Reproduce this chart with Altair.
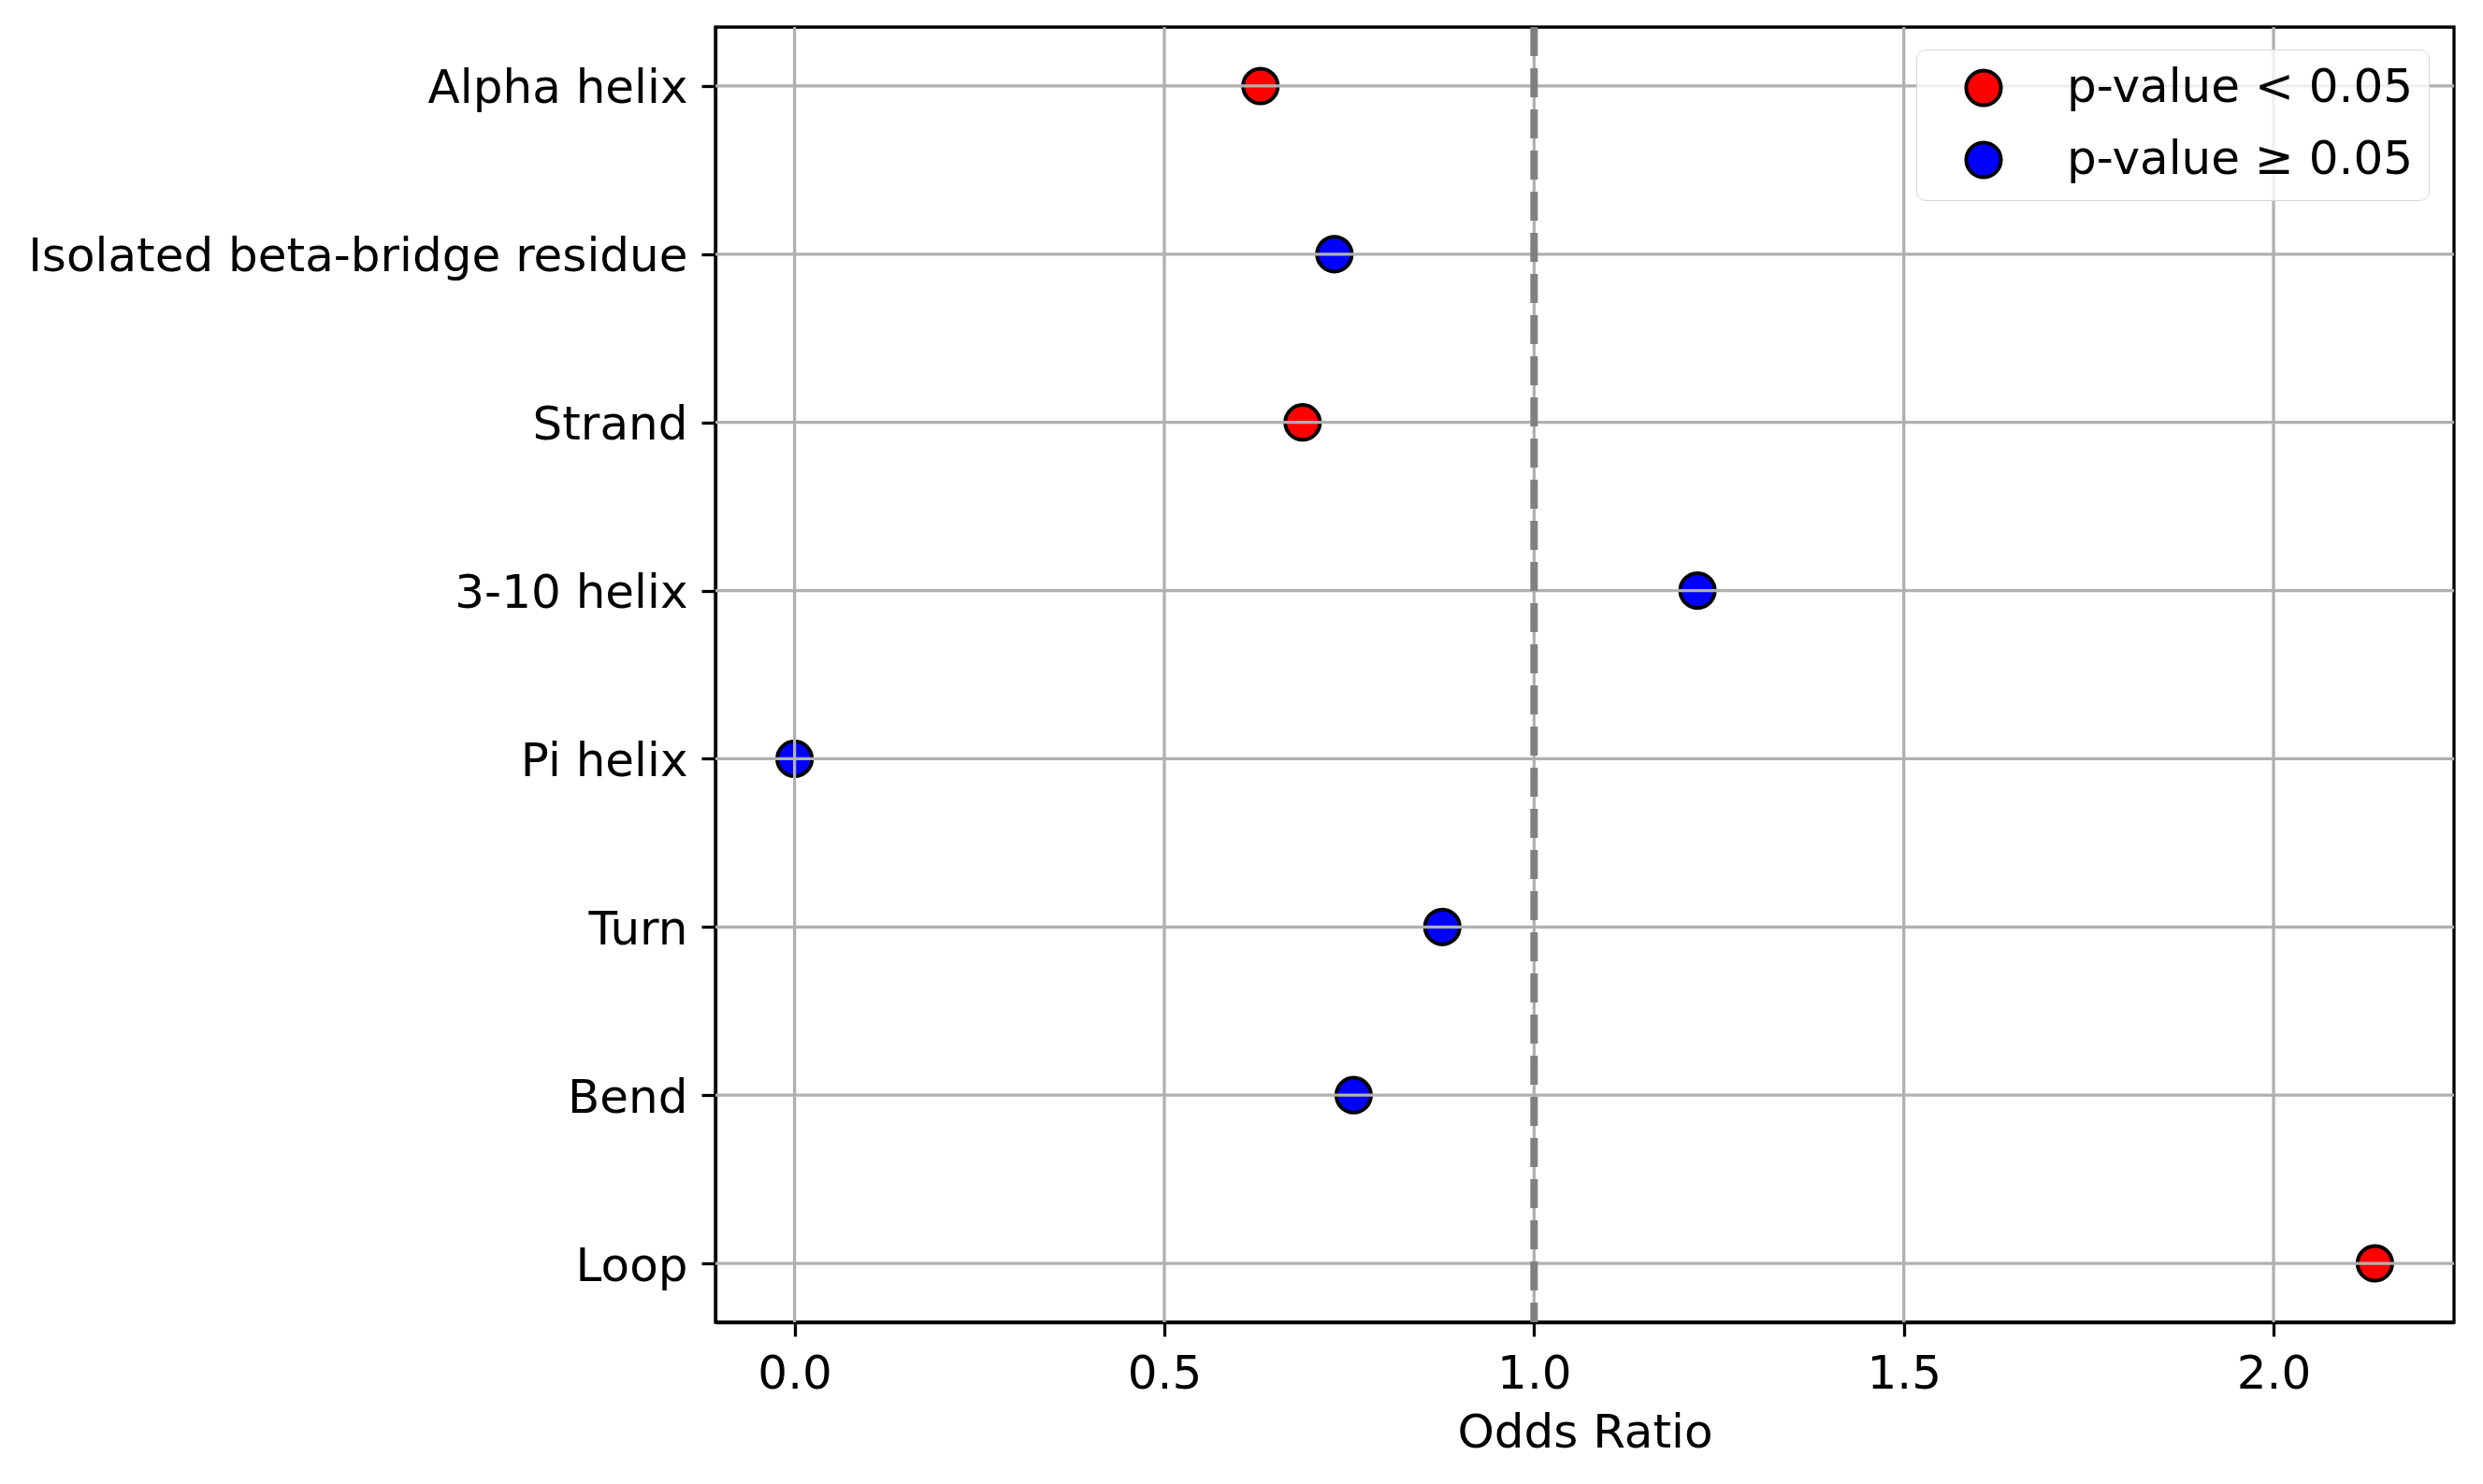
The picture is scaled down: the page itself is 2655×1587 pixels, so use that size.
import altair as alt
import pandas as pd

# secondary structure categories, top to bottom
structures = ["Alpha helix", "Isolated beta-bridge residue", "Strand", "3-10 helix",
              "Pi helix", "Turn", "Bend", "Loop"]
odds_ratios = [0.630, 0.730, 0.687, 1.221, 0.0, 0.876, 0.756, 2.137]
significant = [True, False, True, False, False, False, False, True]
ref_line = [1.0]
x_ticks = [0.0, 0.5, 1.0, 1.5, 2.0]

SIG = "p-value < 0.05"
NONSIG = "p-value \u2265 0.05"
FONT = "DejaVu Sans"
GRID = "#b0b0b0"

df = pd.DataFrame({
    "structure": structures,
    "odds": odds_ratios,
    "sig": [SIG if s else NONSIG for s in significant],
})
ref = pd.DataFrame({"x": ref_line})
xgrid = pd.DataFrame({"x": x_ticks})
ygrid = pd.DataFrame({"structure": structures})

x_scale = alt.Scale(domain=[-0.107, 2.244], nice=False, zero=False)
y_scale = alt.Scale(type="point", padding=0.35, domain=structures)

points = alt.Chart(df).mark_circle(
    size=1380, opacity=1, stroke="black", strokeWidth=4
).encode(
    x=alt.X("odds:Q", scale=x_scale, title="Odds Ratio",
            axis=alt.Axis(values=x_ticks, format=".1f")),
    y=alt.Y("structure:N", sort=structures, title=None, scale=y_scale,
            axis=alt.Axis(labelOffset=3)),
    color=alt.Color("sig:N",
                    scale=alt.Scale(domain=[SIG, NONSIG], range=["#ff0000", "#0000ff"]),
                    legend=alt.Legend(title=None)),
)

# grid drawn above the points, as in the original figure
vgrid = alt.Chart(xgrid).mark_rule(color=GRID, strokeWidth=3.3).encode(
    x=alt.X("x:Q", scale=x_scale))
hgrid = alt.Chart(ygrid).mark_rule(color=GRID, strokeWidth=3.3).encode(
    y=alt.Y("structure:N", sort=structures, scale=y_scale))

vline = alt.Chart(ref).mark_rule(
    color="#808080", strokeWidth=8, strokeDash=[31, 13]
).encode(x=alt.X("x:Q", scale=x_scale))

chart = (
    alt.layer(points, vgrid, hgrid, vline)
    .properties(
        width=1859, height=1385,
        autosize=alt.AutoSizeParams(type="none"),
        padding={"left": 757, "top": 21, "right": 23, "bottom": 150},
    )
    .configure_view(stroke="black", strokeWidth=3.3)
    .configure_axis(
        labelFont=FONT, labelFontSize=50, labelColor="black", labelLimit=2000,
        titleFont=FONT, titleFontSize=50, titleColor="black", titleFontWeight="normal",
        domainColor="black", domainWidth=3.3,
        tickColor="black", tickWidth=3.3, tickSize=15,
        labelPadding=15, grid=False,
    )
    .configure_axisX(titlePadding=13, labelFlush=False)
    .configure_legend(
        orient="none", legendX=1284, legendY=24,
        padding=16, symbolOffset=31, labelOffset=64, rowPadding=23,
        fillColor="rgba(255,255,255,0.8)", strokeColor="#d6d6d6", cornerRadius=10,
        labelFont=FONT, labelFontSize=50, labelColor="black", labelLimit=2000,
        symbolType="circle", symbolSize=1380, symbolStrokeColor="black",
        symbolStrokeWidth=4, symbolOpacity=1,
    )
)

chart.save("out.html", embed_options={"renderer": "svg", "actions": False})
